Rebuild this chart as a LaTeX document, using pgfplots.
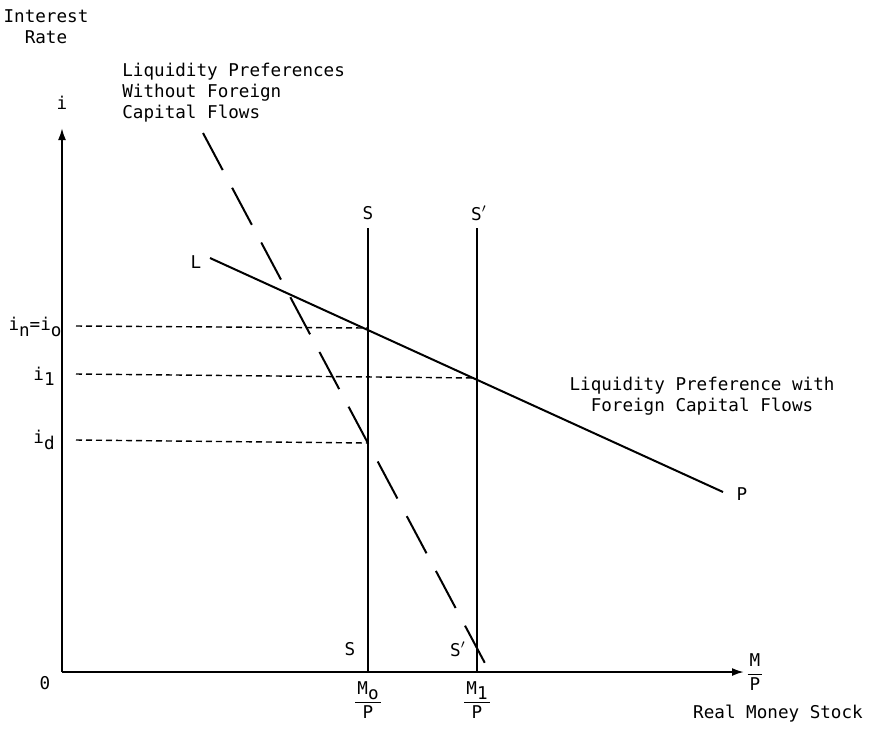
\documentclass[border=0pt]{standalone}
\usepackage{fontspec}
\setmainfont{DejaVu Sans Mono}
\usepackage{pgfplots}
\pgfplotsset{compat=1.18}
\usetikzlibrary{arrows.meta}
\newcommand\sub[1]{\raisebox{-0.55ex}{#1}}
\newcommand\frc[2]{{\setlength{\tabcolsep}{1pt}\renewcommand{\arraystretch}{1.1}\begin{tabular}{c}#1\\\hline #2\end{tabular}}}
\begin{document}
\begin{tikzpicture}[font=\fontsize{8.8}{10.5}\selectfont,every node/.style={inner sep=1pt}]
\begin{axis}[width=435pt,height=368pt,scale only axis,
  xmin=0,xmax=870,ymin=0,ymax=736,y dir=reverse,
  hide axis,clip=false]
\draw[draw=none] (rel axis cs:0,0) rectangle (rel axis cs:1,1);
% axes
\addplot[black,line width=1pt,-{Latex[length=6pt,width=4pt]}] coordinates {(62,672) (62,128)};
\addplot[black,line width=1pt,-{Latex[length=6pt,width=4pt]}] coordinates {(62,672) (744,672)};
% liquidity preference without foreign capital flows (dashed)
\addplot[black,line width=1pt,dash pattern=on 21pt off 10pt] coordinates {(203,133) (487,667)};
% liquidity preference with foreign capital flows
\addplot[black,line width=1pt] coordinates {(210,258) (723,492)};
% supply lines
\addplot[black,line width=1pt] coordinates {(368,228) (368,672)};
\addplot[black,line width=1pt] coordinates {(477,228) (477,672)};
% horizontal dashed guide lines
\addplot[black,line width=0.7pt,dash pattern=on 3pt off 2pt] coordinates {(76,326) (368,328)};
\addplot[black,line width=0.7pt,dash pattern=on 3pt off 2pt] coordinates {(76,374) (477,378)};
\addplot[black,line width=0.7pt,dash pattern=on 3pt off 2pt] coordinates {(76,440) (368,443)};
% labels
\node[align=center] at (axis cs:46,27) {Interest\\Rate};
\node at (axis cs:62,103) {i};
\node[align=left,anchor=west] at (axis cs:120,93) {Liquidity Preferences\\Without Foreign\\Capital Flows};
\node at (axis cs:196,262) {L};
\node at (axis cs:742,494) {P};
\node at (axis cs:368,213) {S};
\node at (axis cs:479,213) {S$'$};
\node at (axis cs:350,649) {S};
\node at (axis cs:458,649) {S$'$};
\node at (axis cs:45,683) {0};
\node[align=center] at (axis cs:702,396) {Liquidity Preference with\\Foreign Capital Flows};
\node at (axis cs:35,327) {i\sub{n}=i\sub{o}};
\node at (axis cs:44,376) {i\sub{1}};
\node at (axis cs:44,440) {i\sub{d}};
\node at (axis cs:368,702) {\frc{M\sub{o}}{P}};
\node at (axis cs:477,702) {\frc{M\sub{1}}{P}};
\node at (axis cs:755,674) {\frc{M}{P}};
\node at (axis cs:778,714) {Real Money Stock};
\end{axis}
\end{tikzpicture}
\end{document}
